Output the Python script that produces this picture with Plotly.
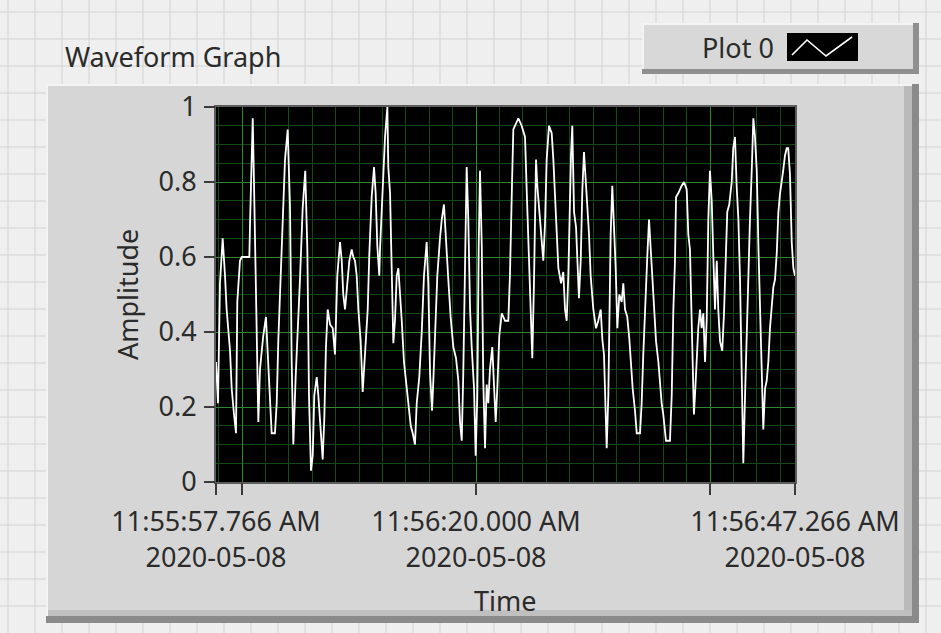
import pandas as pd
import plotly.graph_objects as go

# ---- waveform data -------------------------------------------------------
t0 = pd.Timestamp("2020-05-08 11:55:57.766")
t_end = pd.Timestamp("2020-05-08 11:56:47.266")

# seconds after t0
t_sec = [
    0.00, 0.17, 0.34, 0.57, 0.77, 0.91, 1.20, 1.34, 1.54, 1.71, 1.82, 2.05, 2.20, 2.85, 2.91,
    3.05, 3.14, 3.27, 3.48, 3.62, 3.76, 4.04, 4.27, 4.39, 4.62, 4.76, 5.04, 5.19, 5.33, 5.53,
    5.70, 5.90, 6.13, 6.33, 6.47, 6.61, 6.81, 6.98, 7.18, 7.41, 7.63, 7.81, 7.95, 8.12, 8.27,
    8.40, 8.61, 8.75, 8.89, 9.12, 9.26, 9.40, 9.55, 9.75,
    9.98, 10.17, 10.37, 10.60, 10.75, 10.88, 11.03, 11.23, 11.40, 11.60, 11.74, 11.88, 12.03,
    12.17, 12.37, 12.54, 12.65, 12.82, 12.97, 13.11, 13.31, 13.51, 13.65, 13.79, 13.96, 14.02,
    14.25, 14.45, 14.65, 14.73, 14.88, 15.02, 15.16, 15.30, 15.45, 15.59, 15.73, 15.88, 16.07,
    16.30, 16.50, 16.65, 16.82, 17.01, 17.16, 17.38, 17.59, 17.78, 18.01, 18.15, 18.30, 18.47,
    18.58, 18.75, 18.92, 19.15, 19.30, 19.49, 19.66, 19.86, 20.06, 20.29,
    20.52, 20.72, 20.86, 21.01, 21.14, 21.29, 21.43, 21.57, 21.72, 21.86, 22.06, 22.20, 22.34,
    22.46, 22.57, 22.72, 22.85, 23.00, 23.14, 23.28, 23.42, 23.62, 23.77, 23.91, 24.05, 24.22,
    24.43, 24.71, 24.99, 25.13, 25.31, 25.42, 25.71, 25.85, 26.13, 26.42, 26.56, 26.79, 26.93,
    27.04, 27.19, 27.36, 27.47, 27.64, 27.85, 27.98, 28.13, 28.27, 28.47, 28.70, 28.84, 29.07,
    29.27, 29.50, 29.69, 29.84, 29.98, 30.12, 30.26, 30.35, 30.46, 30.55, 30.61,
    30.78, 30.89, 31.03, 31.18, 31.32, 31.46, 31.61, 31.75, 31.89, 32.03, 32.26, 32.49, 32.68,
    32.89, 33.03, 33.17, 33.32, 33.40, 33.54, 33.63, 33.74, 33.88, 34.03, 34.17, 34.31, 34.48,
    34.68, 34.82, 34.97, 35.16, 35.34, 35.48, 35.62, 35.82, 35.97, 36.25, 36.39, 36.53, 36.68,
    36.87, 37.02, 37.16, 37.30, 37.45, 37.62, 37.82, 37.96, 38.10, 38.24, 38.47, 38.81, 38.96,
    39.10, 39.24, 39.33, 39.52, 39.81, 40.01, 40.24, 40.38, 40.52, 40.67, 40.86, 40.98, 41.10,
    41.23, 41.38, 41.52, 41.66, 41.81, 41.95, 42.09, 42.23, 42.38, 42.51, 42.66, 42.81, 42.94,
    43.09, 43.28, 43.43, 43.57, 43.71, 43.88, 44.09, 44.22, 44.37, 44.51, 44.66, 44.80, 44.95,
    45.08, 45.23, 45.37, 45.51, 45.65, 45.80, 45.94, 46.08, 46.23, 46.37, 46.51, 46.65, 46.79,
    46.94, 47.08, 47.22, 47.36, 47.65, 47.79, 47.94, 48.08, 48.22, 48.36, 48.49, 48.64, 48.79,
    48.92, 49.07, 49.22, 49.36, 49.50,
]

amplitude = [
    0.32, 0.21, 0.53, 0.65, 0.55, 0.46, 0.35, 0.25, 0.18, 0.13, 0.48, 0.59, 0.60, 0.60, 0.69,
    0.87, 0.97, 0.76, 0.37, 0.16, 0.30, 0.39, 0.44, 0.36, 0.21, 0.13, 0.13, 0.21, 0.38, 0.54,
    0.70, 0.86, 0.94, 0.73, 0.32, 0.10, 0.28, 0.39, 0.54, 0.73, 0.83, 0.62, 0.23, 0.03, 0.07,
    0.23, 0.28, 0.23, 0.16, 0.06, 0.17, 0.36, 0.46, 0.42,
    0.41, 0.34, 0.55, 0.64, 0.59, 0.50, 0.46, 0.54, 0.59, 0.62, 0.60, 0.59, 0.55,
    0.46, 0.375, 0.24, 0.30, 0.39, 0.46, 0.61, 0.76, 0.84, 0.77, 0.63, 0.55, 0.62,
    0.77, 0.92, 1.00, 0.84, 0.77, 0.53, 0.37, 0.43, 0.55, 0.57, 0.51, 0.43, 0.32,
    0.25, 0.20, 0.15, 0.13, 0.10, 0.21, 0.28, 0.40, 0.55, 0.64, 0.53, 0.29, 0.19,
    0.27, 0.41, 0.55, 0.65, 0.70, 0.74, 0.66, 0.54, 0.44, 0.36,
    0.33, 0.27, 0.16, 0.11, 0.29, 0.65, 0.84, 0.70, 0.46, 0.36, 0.25, 0.07, 0.23,
    0.63, 0.83, 0.63, 0.27, 0.09, 0.26, 0.21, 0.30, 0.36, 0.23, 0.16, 0.25, 0.39,
    0.45, 0.43, 0.43, 0.55, 0.80, 0.94, 0.96, 0.97, 0.95, 0.92, 0.78, 0.54, 0.46,
    0.33, 0.54, 0.86, 0.79, 0.72, 0.64, 0.59, 0.69, 0.86, 0.95, 0.93, 0.86, 0.72,
    0.57, 0.53, 0.56, 0.46, 0.43, 0.55, 0.82, 0.87, 0.95, 0.82, 0.72,
    0.68, 0.58, 0.49, 0.59, 0.78, 0.88, 0.81, 0.74, 0.66, 0.55, 0.46, 0.41, 0.43,
    0.46, 0.38, 0.34, 0.19, 0.09, 0.23, 0.43, 0.66, 0.79, 0.68, 0.57, 0.41, 0.50,
    0.48, 0.53, 0.46, 0.44, 0.38, 0.31, 0.25, 0.19, 0.13, 0.13, 0.21, 0.34, 0.47,
    0.60, 0.70, 0.62, 0.53, 0.45, 0.375, 0.32, 0.26, 0.21, 0.18, 0.11, 0.11, 0.23,
    0.46, 0.59, 0.76, 0.77, 0.79, 0.80, 0.78, 0.66, 0.62, 0.41, 0.18, 0.25, 0.33,
    0.41, 0.46, 0.41, 0.45, 0.32, 0.43, 0.70, 0.83, 0.75, 0.61, 0.46, 0.59, 0.46,
    0.375, 0.35, 0.45, 0.61, 0.72, 0.74, 0.80, 0.89, 0.92, 0.79, 0.70, 0.54, 0.28,
    0.05, 0.23, 0.41, 0.55, 0.70, 0.83, 0.97, 0.92, 0.83, 0.63, 0.46, 0.32, 0.14,
    0.25, 0.27, 0.32, 0.41, 0.52, 0.54, 0.61, 0.72, 0.77, 0.81, 0.83, 0.87, 0.89,
    0.89, 0.82, 0.64, 0.57, 0.55,
]

# axis ticks
y_ticks = [0, 0.2, 0.4, 0.6, 0.8, 1]
y_tick_text = ["0", "0.2", "0.4", "0.6", "0.8", "1"]
x_major = [t0, pd.Timestamp("2020-05-08 11:56:00"), pd.Timestamp("2020-05-08 11:56:20"),
           pd.Timestamp("2020-05-08 11:56:40"), t_end]
x_labelled = [True, False, True, False, True]

times = t0 + pd.to_timedelta(t_sec, unit="s")


def stamp(ts):
    return ts.strftime("%I:%M:%S.") + f"{ts.microsecond // 1000:03d} " + ts.strftime("%p") \
        + "<br>" + ts.strftime("%Y-%m-%d")


x_tick_text = [stamp(ts) if show else "" for ts, show in zip(x_major, x_labelled)]

# ---- page geometry (pixels) ----------------------------------------------
W, H = 941, 633
L, R, T, B = 216, 795, 107, 482


def px(X):
    return (X - L) / (R - L)


def py(Y):
    return (B - Y) / (B - T)


FONT = "Segoe UI, Noto Sans, sans-serif"
TXT = "#2b2b2b"
FS = 27

shapes = []


def rect(x0, y0, x1, y1, fill, layer="below"):
    shapes.append(dict(type="rect", xref="paper", yref="paper",
                       x0=px(x0), x1=px(x1), y0=py(y1), y1=py(y0),
                       fillcolor=fill, line=dict(width=0), layer=layer))


def hline(y, x0, x1, color, width=1, layer="below"):
    shapes.append(dict(type="line", xref="paper", yref="paper",
                       x0=px(x0), x1=px(x1), y0=py(y), y1=py(y),
                       line=dict(color=color, width=width), layer=layer))


def vline(x, y0, y1, color, width=1, layer="below"):
    shapes.append(dict(type="line", xref="paper", yref="paper",
                       x0=px(x), x1=px(x), y0=py(y0), y1=py(y1),
                       line=dict(color=color, width=width), layer=layer))


# front panel grid
CELL = 27
for gx in range(8, W, CELL):
    vline(gx, 0, H, "#d3d3d3")
for gy in range(12, H, CELL):
    hline(gy, 0, W, "#d3d3d3")

# legend box
rect(642, 23, 919, 74, "#8f8f8f")
rect(642, 23, 913, 69, "#f4f4f4")
rect(644, 25, 913, 69, "#d8d8d8")
rect(787, 33, 858, 61, "#000000")
shapes.append(dict(type="path", xref="paper", yref="paper", layer="above",
                   path="M {},{} L {},{} L {},{} L {},{}".format(
                       px(792), py(55), px(807), py(40), px(826), py(56), px(852), py(37)),
                   line=dict(color="white", width=1.6)))

# graph frame
rect(46, 84, 919, 623, "#8a8a8a")
rect(46, 84, 912, 616, "#f4f4f4")
rect(48, 86, 912, 616, "#d6d6d6")
rect(904, 86, 912, 616, "#bababa")
rect(48, 610, 912, 616, "#c0c0c0")
rect(L - 2, T - 2, R + 2, B + 2, "#5c5c5c")
rect(L, T, R, B, "#000000")

fig = go.Figure()
fig.add_trace(go.Scatter(x=times, y=amplitude, mode="lines", name="Plot 0",
                         line=dict(color="white", width=1.8), showlegend=False,
                         hoverinfo="skip"))

annotations = [
    dict(text="Waveform Graph", x=px(63), y=py(56), xref="paper", yref="paper",
         xanchor="left", yanchor="middle", showarrow=False,
         font=dict(family=FONT, size=FS, color=TXT)),
    dict(text="Plot 0", x=px(738), y=py(47), xref="paper", yref="paper",
         xanchor="center", yanchor="middle", showarrow=False,
         font=dict(family=FONT, size=FS, color=TXT)),
    dict(text="Time", x=px(505), y=py(600), xref="paper", yref="paper",
         xanchor="center", yanchor="middle", showarrow=False,
         font=dict(family=FONT, size=FS, color=TXT)),
    dict(text="Amplitude", x=px(127), y=py(295), xref="paper", yref="paper",
         xanchor="center", yanchor="middle", textangle=-90, showarrow=False,
         font=dict(family=FONT, size=FS, color=TXT)),
]

fig.update_layout(
    width=W, height=H,
    margin=dict(l=L, r=W - R, t=T, b=H - B, pad=0),
    paper_bgcolor="#efefef",
    plot_bgcolor="#000000",
    shapes=shapes,
    annotations=annotations,
    showlegend=False,
    font=dict(family=FONT, color=TXT, size=FS),
)

fig.update_xaxes(
    type="date", range=[t0, t_end], tickmode="array", tickvals=x_major, ticktext=x_tick_text,
    showgrid=True, gridcolor="#2e862e", gridwidth=1.3,
    ticks="outside", ticklen=12, tickwidth=2, tickcolor="#3a3a3a",
    tickfont=dict(family=FONT, size=FS, color=TXT), ticklabelstandoff=4,
    minor=dict(tickmode="linear", tick0="2020-05-08 11:56:00", dtick=2000,
               showgrid=True, gridcolor="#134a13", gridwidth=1, ticks=""),
    zeroline=False, showline=False, fixedrange=True,
)
fig.update_yaxes(
    range=[0, 1], tickmode="array", tickvals=y_ticks, ticktext=y_tick_text,
    showgrid=True, gridcolor="#2e862e", gridwidth=1.3,
    ticks="outside", ticklen=11, tickwidth=2, tickcolor="#3a3a3a",
    tickfont=dict(family=FONT, size=FS, color=TXT), ticklabelstandoff=2,
    minor=dict(tickmode="linear", tick0=0, dtick=0.05,
               showgrid=True, gridcolor="#134a13", gridwidth=1, ticks=""),
    zeroline=False, showline=False, fixedrange=True,
)

fig.write_html("out.html", config={"displayModeBar": False})
